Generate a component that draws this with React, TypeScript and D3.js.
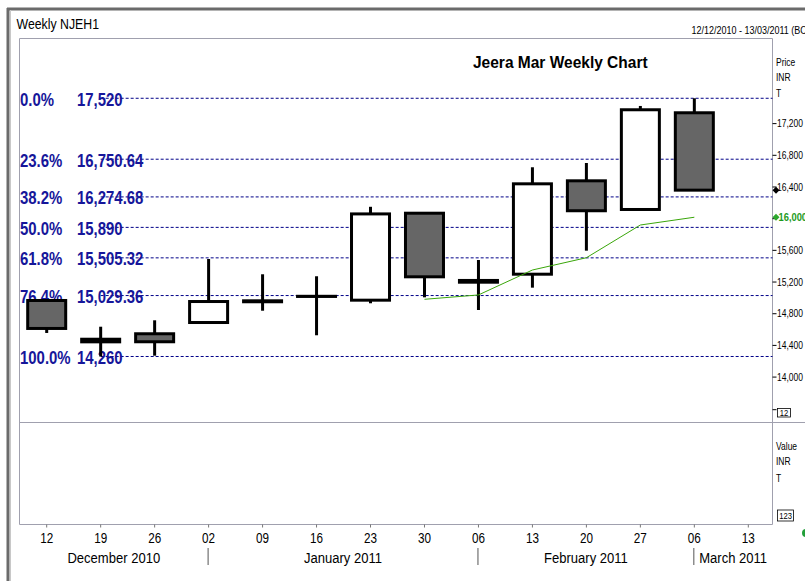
import React from "react";
import * as d3 from "d3";

// weekly candles, Jeera Mar (NJEH1)
const weeks = [
  "2010-12-12", "2010-12-19", "2010-12-26", "2011-01-02", "2011-01-09", "2011-01-16", "2011-01-23",
  "2011-01-30", "2011-02-06", "2011-02-13", "2011-02-20", "2011-02-27", "2011-03-06", "2011-03-13",
];
const opens = [14967, 14445, 14547, 14689, 14963, 15020, 14971, 16069, 15198, 15299, 16478, 16116, 17337];
const highs = [14967, 14636, 14717, 15491, 15298, 15273, 16150, 16069, 15478, 16649, 16703, 17423, 17520];
const lows = [14557, 14260, 14270, 14689, 14838, 14528, 14932, 15007, 14847, 15129, 15596, 16116, 16360];
const closes = [14614, 14478, 14446, 14954, 14951, 15018, 16060, 15266, 15220, 16440, 16100, 17375, 16360];

// moving average (green), starts on 30 Jan
const maStart = 7;
const maValues = [14982, 15037, 15352, 15507, 15920, 16018];

// fibonacci retracement 14,260 -> 17,520
const fibPct = ["0.0%", "23.6%", "38.2%", "50.0%", "61.8%", "76.4%", "100.0%"];
const fibValues = [17520, 16750.64, 16274.68, 15890, 15505.32, 15029.36, 14260];

const priceTicks = [14000, 14400, 14800, 15200, 15600, 16000, 16400, 16800, 17200];
const monthLabels = ["December 2010", "January 2011", "February 2011", "March 2011"];
const monthStarts = ["2011-01-02", "2011-02-06", "2011-03-06"];

const FONT = "Liberation Sans, Arial, sans-serif";

const T = ({ x, y, sx = 1, size = 10, bold = false, fill = "#000", anchor = "start", children }: any) => (
  <text
    transform={`translate(${x},${y}) scale(${sx},1)`}
    fontFamily={FONT}
    fontSize={size}
    fontWeight={bold ? "bold" : "normal"}
    fill={fill}
    textAnchor={anchor}
  >
    {children}
  </text>
);

export default function App() {
  const width = 805;
  const height = 581;
  const left = 19.5;
  const right = 772.5;
  const top = 38.5;
  const split = 422.5;
  const bottom = 524.5;

  const x = d3.scalePoint<string>().domain(weeks).range([46.7, 748.3]);
  const y = d3.scaleLinear().domain([13433, 18281]).range([422, 38]);
  const fmt = d3.format(",");
  const dayFmt = d3.timeFormat("%d");
  const parse = d3.timeParse("%Y-%m-%d");

  const maLine = d3
    .line<number>()
    .x((_, i) => x(weeks[i + maStart])!)
    .y((d) => y(d))(maValues);

  const sepX = monthStarts.map((d) => x(d)! - 0.5);
  const bounds = [left, ...sepX, right];

  const lastClose = closes[closes.length - 1];
  const lastMa = maValues[maValues.length - 1];
  const diamond = (cx: number, cy: number) => `M${cx},${cy - 3.5}L${cx + 3.5},${cy}L${cx},${cy + 3.5}L${cx - 3.5},${cy}Z`;

  return (
    <svg width={width} height={height} style={{ position: "absolute", left: 0, top: 0, background: "#fff" }}>
      {/* window frame */}
      <rect x={0} y={0} width={width} height={height} fill="#fff" />
      <line x1={7} x2={width} y1={9} y2={9} stroke="#6b6b6b" strokeWidth={3} />
      <line x1={8} x2={8} y1={8} y2={height} stroke="#6b6b6b" strokeWidth={3} />
      <line x1={10.5} x2={10.5} y1={10} y2={height} stroke="#c8c8c8" strokeWidth={1} />

      <T x={16.5} y={29} size={14} sx={0.88}>Weekly NJEH1</T>
      <T x={691.5} y={34.3} size={10} sx={0.9}>12/12/2010 - 13/03/2011 (BOM)</T>

      {/* panes */}
      <line x1={left} x2={right} y1={top} y2={top} stroke="#a0a0ae" />
      <line x1={left} x2={left} y1={top} y2={bottom} stroke="#a0a0ae" />
      <line x1={right} x2={right} y1={top} y2={bottom} stroke="#a0a0ae" />
      <line x1={left} x2={width} y1={split} y2={split} stroke="#a0a0ae" />
      <line x1={left} x2={right} y1={bottom} y2={bottom} stroke="#a0a0ae" />

      <T x={473} y={67.6} size={16.5} sx={0.94} bold>Jeera Mar Weekly Chart</T>

      {/* fibonacci levels */}
      {fibValues.map((v, i) => (
        <g key={fibPct[i]}>
          <line x1={x(weeks[1])} x2={right} y1={y(v)} y2={y(v)} stroke="#000088" strokeDasharray="3 2" />
          <T x={20} y={y(v) + 7.5} size={18} sx={0.83} bold fill="#16169a">{fibPct[i]}</T>
          <T x={77} y={y(v) + 7.5} size={18} sx={0.83} bold fill="#16169a">{fmt(v)}</T>
        </g>
      ))}

      {/* candles */}
      {opens.map((o, i) => {
        const c = closes[i];
        const cx = x(weeks[i])!;
        const yt = y(Math.max(o, c));
        const yb = y(Math.min(o, c));
        return (
          <g key={weeks[i]}>
            <line x1={cx} x2={cx} y1={y(highs[i])} y2={y(lows[i])} stroke="#000" strokeWidth={3} />
            <rect
              x={cx - 19}
              y={yt}
              width={38}
              height={Math.max(0.1, yb - yt)}
              fill={c < o ? "#666666" : "#fff"}
              stroke="#000"
              strokeWidth={3}
            />
          </g>
        );
      })}

      <path d={maLine!} fill="none" stroke="#3aa60a" strokeWidth={1} />

      {/* price axis */}
      <T x={776} y={66.3} sx={0.85}>Price</T>
      <T x={776} y={80.9} sx={0.85}>INR</T>
      <T x={776} y={96.9} sx={0.85}>T</T>
      {priceTicks.map((t) => (
        <g key={t}>
          <line x1={right} x2={right + 4} y1={y(t)} y2={y(t)} stroke="#000" />
          {t !== 16000 && <T x={777} y={y(t) + 3.6} sx={0.85}>{fmt(t)}</T>}
        </g>
      ))}
      <path d={diamond(776, y(lastClose))} fill="#000" />
      <path d={diamond(776, y(lastMa))} fill="#2ea82e" />
      <T x={778.5} y={y(lastMa) + 4} size={11} sx={0.85} bold fill="#1c9a1c">{fmt(16000)}</T>

      <line x1={right} x2={right + 4} y1={409.7} y2={409.7} stroke="#000" />
      <rect x={777.5} y={408.5} width={13} height={8.5} fill="#fff" stroke="#000" strokeWidth={0.8} />
      <T x={784} y={415.5} size={9} sx={0.85} anchor="middle">12</T>

      {/* lower pane axis */}
      <T x={776} y={450.3} sx={0.85}>Value</T>
      <T x={776} y={465.3} sx={0.85}>INR</T>
      <T x={776} y={481.9} sx={0.85}>T</T>
      <rect x={777.5} y={510} width={16} height={11} fill="#fff" stroke="#000" strokeWidth={0.8} />
      <T x={785.5} y={518.5} size={9} sx={0.85} anchor="middle">123</T>
      <circle cx={806} cy={533} r={4} fill="#22a03a" />

      {/* time axis */}
      {weeks.map((w) => (
        <g key={w}>
          <line x1={x(w)} x2={x(w)} y1={bottom} y2={bottom + 3} stroke="#777" />
          <T x={x(w)} y={543} size={15} sx={0.78} anchor="middle">{dayFmt(parse(w)!)}</T>
        </g>
      ))}
      {sepX.map((sx) => (
        <line key={sx} x1={sx} x2={sx} y1={548} y2={565} stroke="#555" />
      ))}
      {monthLabels.map((m, i) => (
        <T key={m} x={(bounds[i] + bounds[i + 1]) / 2} y={563} size={15} sx={0.87} anchor="middle">{m}</T>
      ))}
    </svg>
  );
}
